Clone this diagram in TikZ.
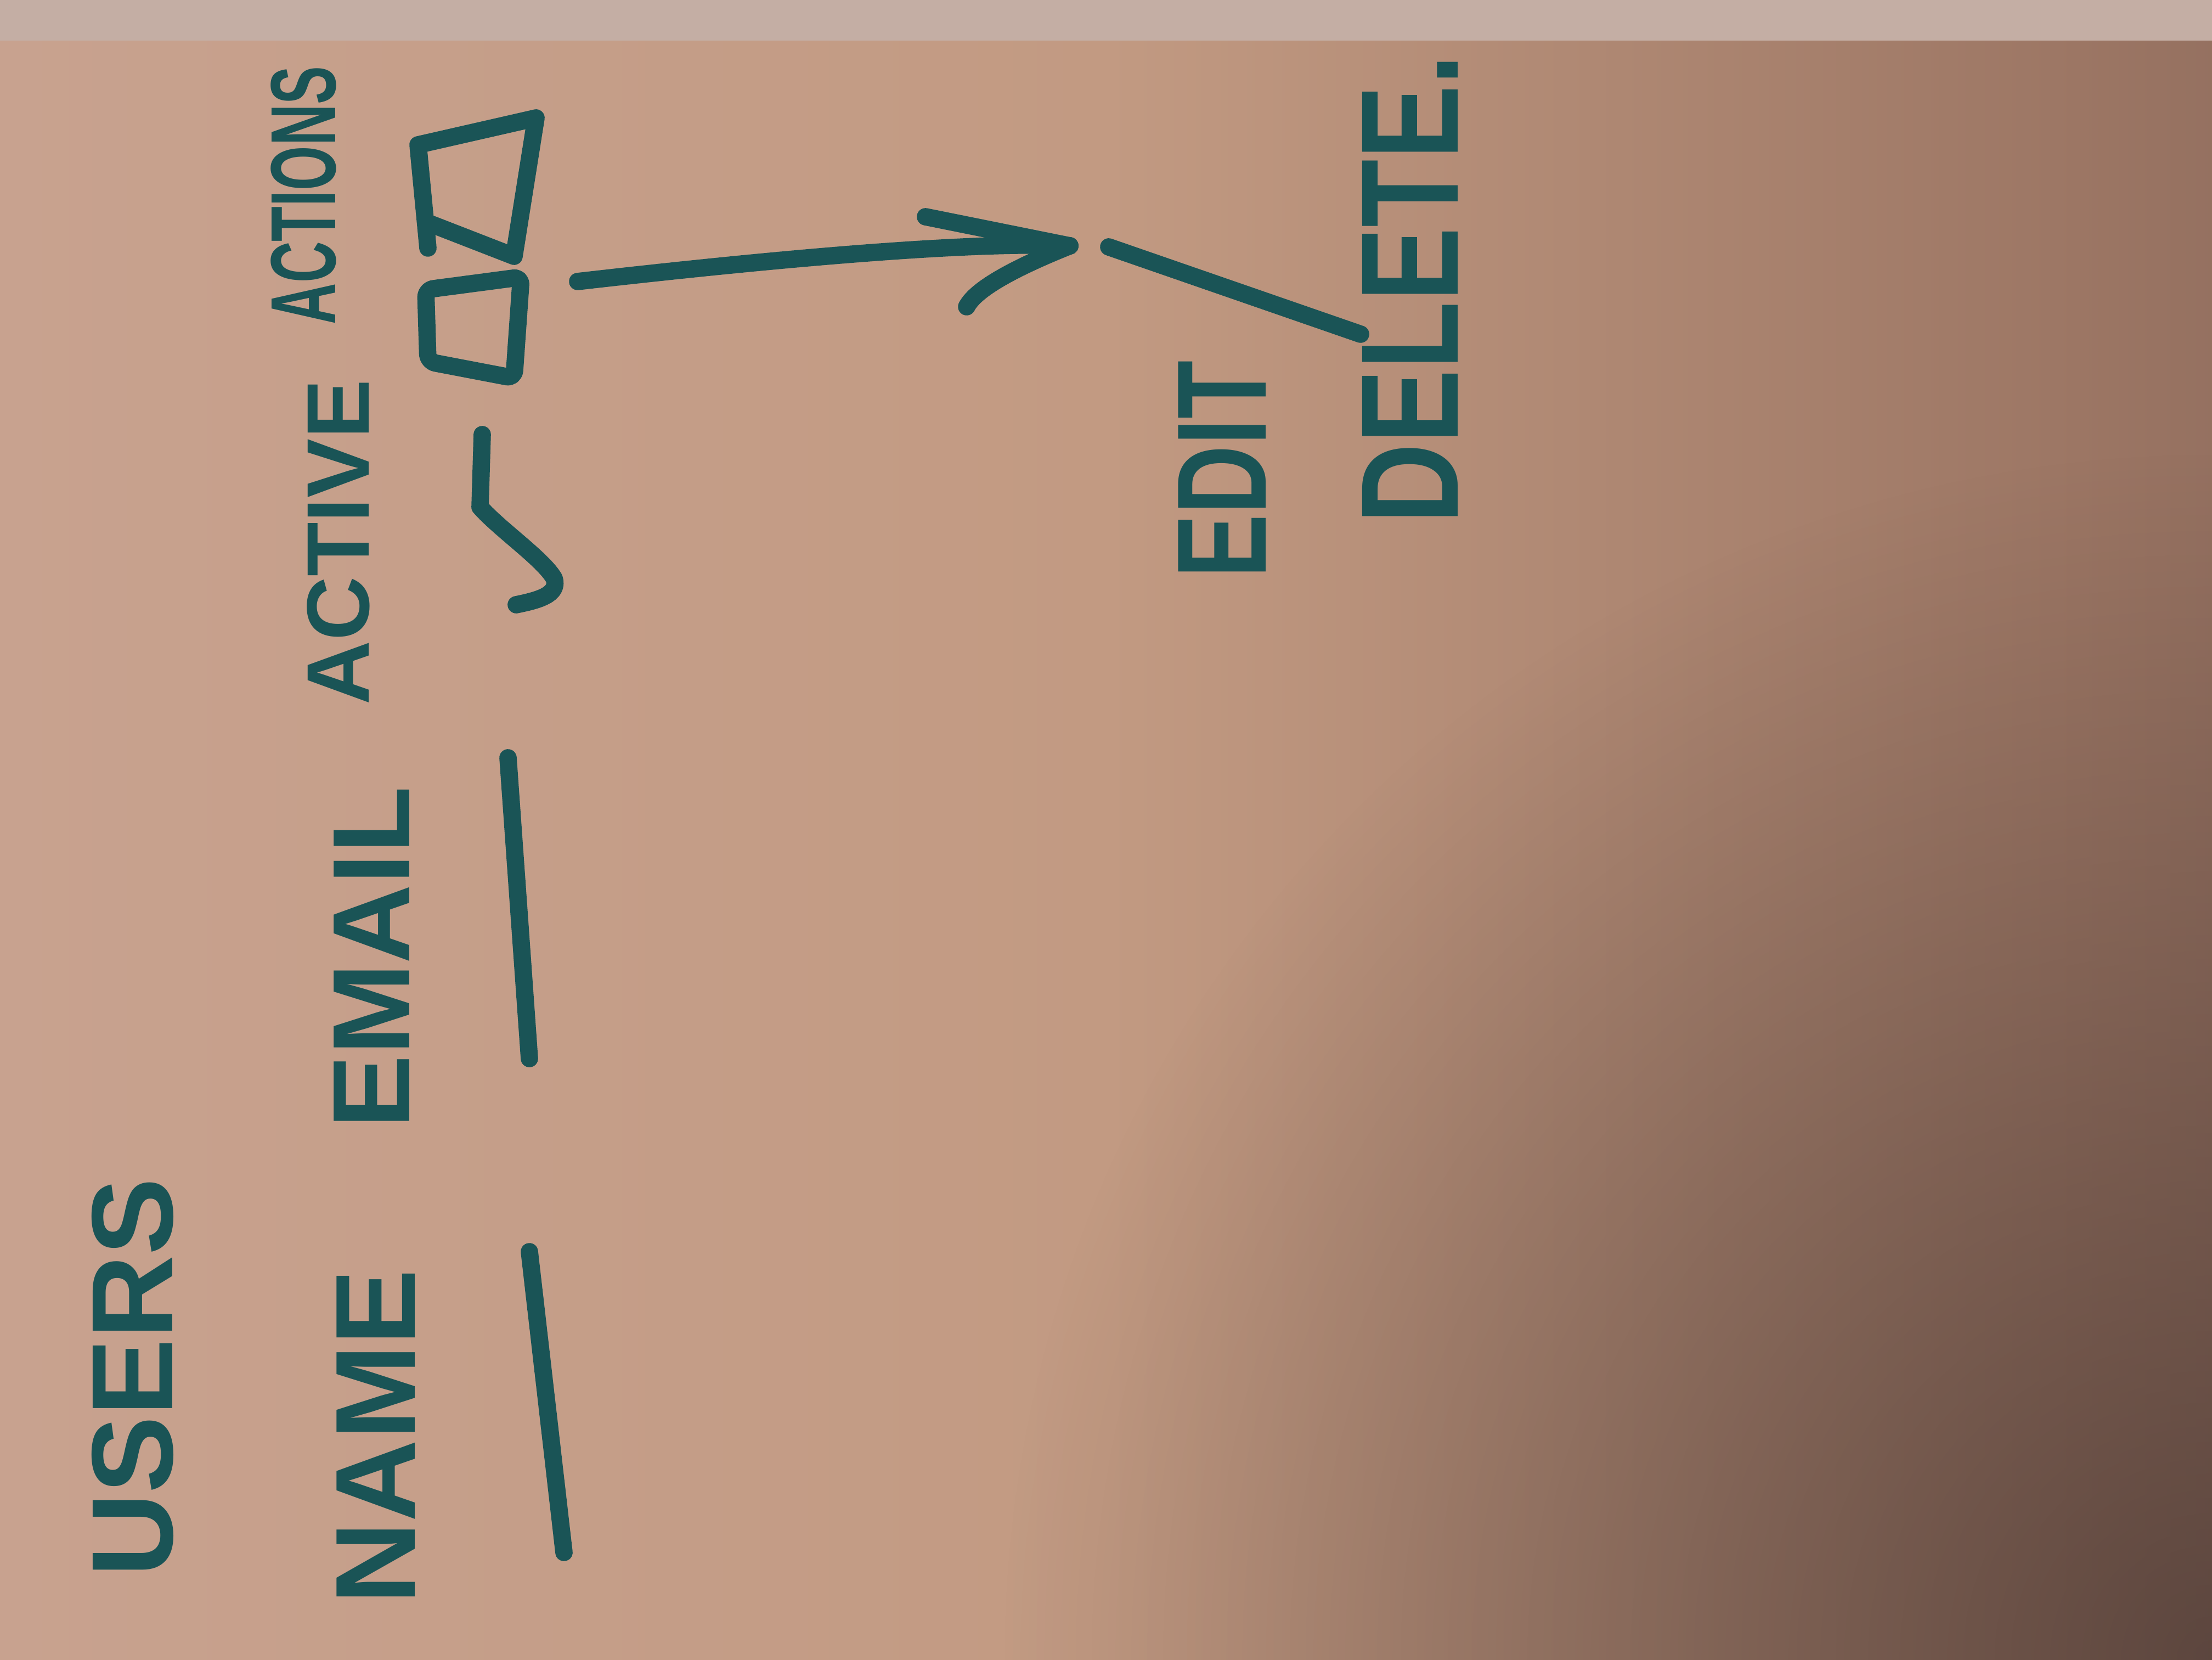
\documentclass[tikz,border=0pt]{standalone}
\usepackage{graphicx}
\usepackage{fontspec}
\setmainfont{Liberation Sans}
\usetikzlibrary{positioning,fadings}

\definecolor{ink}{RGB}{26,84,86}
\definecolor{paperlight}{RGB}{206,170,156}
\definecolor{papermid}{RGB}{194,154,130}
\definecolor{paperdeep}{RGB}{156,118,100}
\definecolor{paperdark}{RGB}{92,70,66}
\definecolor{paperedge}{RGB}{196,174,164}
\pgfdeclarehorizontalshading{paper}{100bp}{color(0bp)=(paperlight); color(50bp)=(papermid); color(72bp)=(paperdeep); color(100bp)=(paperdark)}
\tikzfading[name=fade corner, inner color=transparent!40, outer color=transparent!100]
\newcommand{\penfont}[1]{\bfseries\fontsize{#1}{#1}\selectfont}

\begin{document}
\begin{tikzpicture}[
  hand/.style={draw=ink, line width=9pt, line cap=round, line join=round},
  scrawl/.style={text=ink, rotate=90, inner sep=0pt}
]
% Papier
\useasboundingbox (0,0) rectangle (40.32,30.24);
\shade[shading=paper] (0,0) rectangle (40.32,30.24);
\fill[paperdark!60!black, path fading=fade corner] (40.32,0) circle (22);
\fill[paperedge] (0,29.5) rectangle (40.32,30.24);

% Titel und Kopfzeile
\node[scrawl, font=\penfont{60}] (users)   at (2.42,5.14)   {USERS};
\node[scrawl, font=\penfont{59}] (name)    at (6.85,4.06)   {NAME};
\node[scrawl, font=\penfont{57}] (email)   at (6.78,12.79)  {EMAIL};
\node[scrawl, font=\penfont{46}] (active)  at (6.17,20.36)  {ACTIVE};
\node[scrawl, font=\penfont{48}] (actions) at (5.53,26.68)  {\scalebox{0.62}[1]{ACTIONS}};

% Zeile
\draw[hand] (9.65,7.43) -- (10.28,1.95);
\draw[hand] (9.26,16.43) -- (9.65,10.95);
\draw[hand] (8.79,22.32) -- (8.75,21.0)
  .. controls (9.1,20.6) and (9.9,20.05) .. (10.1,19.7)
  .. controls (10.2,19.4) and (9.8,19.3) .. (9.41,19.22);
\draw[hand] (7.80,25.72) -- (7.62,27.60) -- (9.77,28.09) -- (9.37,25.57) -- (7.80,26.18);
\draw[hand, rounded corners=4pt] (7.76,24.96) -- (9.50,25.19) -- (9.37,23.35) -- (7.80,23.65) -- cycle;

% Aktionen
\coordinate (boxes) at (10.53,25.11);
\coordinate (tip)   at (19.50,25.76);
\draw[hand] (boxes) .. controls (13.5,25.45) and (17.5,25.85) .. (tip);
\draw[hand] (16.87,26.29) -- (tip);
\draw[hand] (tip) .. controls (18.6,25.4) and (17.8,25.0) .. (17.62,24.65);

\node[scrawl, font=\penfont{66}] (edit)   at (22.28,21.69) {\scalebox{0.75}[1]{EDIT}};
\node[scrawl, font=\penfont{72}] (delete) at (25.70,24.97) {\scalebox{0.8}[1]{DELETE.}};
\draw[hand] (20.21,25.74) -- (24.80,24.15);
\end{tikzpicture}
\end{document}
